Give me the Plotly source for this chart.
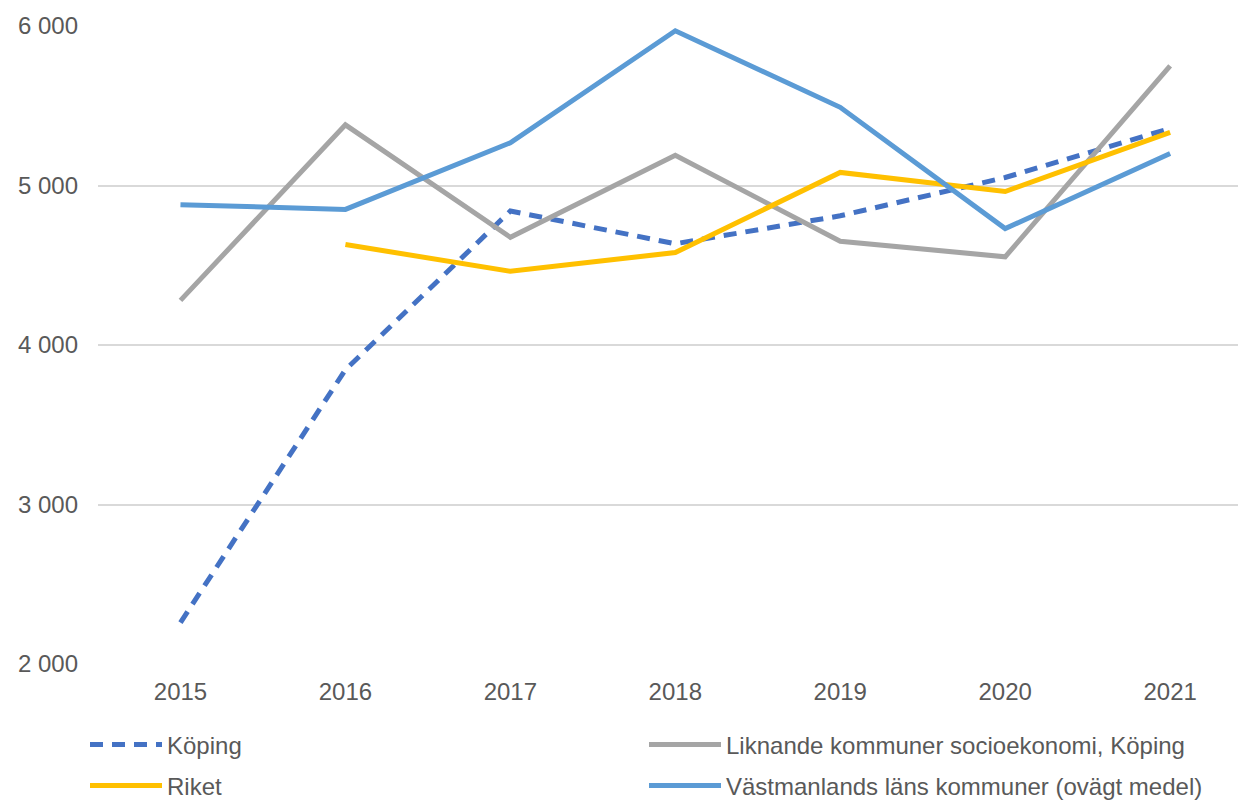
import plotly.graph_objects as go

years = ["2015", "2016", "2017", "2018", "2019", "2020", "2021"]
koping = [2260, 3845, 4840, 4635, 4810, 5050, 5358]
liknande = [4280, 5380, 4675, 5190, 4650, 4553, 5750]
riket = [None, 4630, 4462, 4580, 5082, 4962, 5333]
vastmanland = [4880, 4850, 5268, 5970, 5490, 4730, 5201]

names = ["Köping", "Liknande kommuner socioekonomi, Köping", "Riket",
         "Västmanlands läns kommuner (ovägt medel)"]
y_tickvals = [2000, 3000, 4000, 5000, 6000]
y_ticktext = ["2 000", "3 000", "4 000", "5 000", "6 000"]

FONT = "Liberation Sans, Arial, sans-serif"
TXT = "#595959"
W, H = 1238, 792

fig = go.Figure()
fig.add_trace(go.Scatter(x=years, y=koping, name=names[0], mode="lines",
                         line=dict(color="#4472C4", width=5, dash="13px,9px"),
                         legend="legend"))
fig.add_trace(go.Scatter(x=years, y=liknande, name=names[1], mode="lines",
                         line=dict(color="#A5A5A5", width=5),
                         legend="legend"))
fig.add_trace(go.Scatter(x=years, y=riket, name=names[2], mode="lines",
                         line=dict(color="#FFC000", width=5),
                         legend="legend2"))
fig.add_trace(go.Scatter(x=years, y=vastmanland, name=names[3], mode="lines",
                         line=dict(color="#5B9BD5", width=5),
                         legend="legend2"))

legend_common = dict(orientation="h", xref="container", yref="container",
                     xanchor="left", yanchor="middle",
                     entrywidth=472, entrywidthmode="pixels", itemwidth=72,
                     font=dict(family=FONT, size=24, color=TXT),
                     bgcolor="rgba(0,0,0,0)", traceorder="normal")

fig.update_layout(
    width=W, height=H,
    margin=dict(l=90, r=0, t=18, b=136),
    plot_bgcolor="white", paper_bgcolor="white",
    font=dict(family=FONT, size=24, color=TXT),
    showlegend=True,
    legend=dict(x=77 / W, y=1 - 737 / H, **legend_common),
    legend2=dict(x=77 / W, y=1 - 778 / H, **legend_common),
    xaxis=dict(type="category", range=[-0.5, 6.46], showgrid=False,
               showline=False, zeroline=False, ticks="",
               tickfont=dict(family=FONT, size=24, color=TXT),
               ticklabelstandoff=11),
    yaxis=dict(range=[2000, 6000], tickvals=y_tickvals, ticktext=y_ticktext,
               showgrid=True, gridcolor="#D9D9D9", gridwidth=1.5,
               zeroline=False, showline=False, ticks="",
               tickfont=dict(family=FONT, size=24, color=TXT),
               ticklabelstandoff=19),
)

fig.write_html("out.html")
